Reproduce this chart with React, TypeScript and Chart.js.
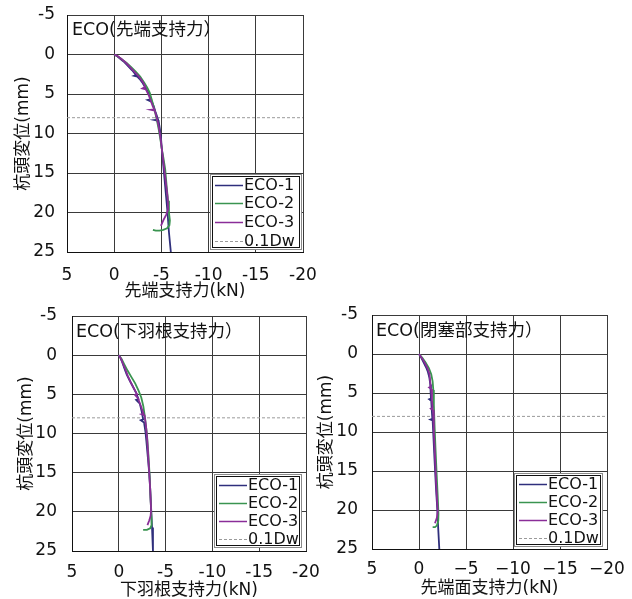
import React, { useEffect, useRef } from 'react';
import { Chart, registerables } from 'chart.js';

Chart.register(...registerables);

// ---------- shared values ----------
const Y_MIN = -5;
const Y_MAX = 25;
const Y_STEP = 5;
const X_MIN = -20;
const X_MAX = 5;
const X_STEP = 5;
const SERIES_LABELS = ['ECO-1', 'ECO-2', 'ECO-3'];
const REF_LABEL = '0.1Dw';
const REF_DISP = 8;
const Y_TITLE = '杭頭変位(mm)';

// ---------- chart 1: 先端支持力 ----------
const tipTitle = 'ECO(先端支持力）';
const tipXTitle = '先端支持力(kN)';
const tipEco1X = [0, -0.3, -0.7, -1.1, -1.5, -1.9, -2.3, -2.1, -2.45, -2.7, -2.95, -3.2, -3.45, -3.7, -3.9, -3.55, -4.0, -4.2, -4.35, -4.5, -4.65, -4.3, -4.7, -4.85, -4.95, -5.05, -5.2, -5.35, -5.5, -5.65, -5.8, -6.0];
const tipEco1Y = [0, 0.2, 0.6, 1.0, 1.5, 2.0, 2.6, 2.7, 2.8, 3.1, 3.5, 4.0, 4.5, 5.0, 5.65, 5.75, 6.0, 6.6, 7.2, 7.7, 8.25, 8.3, 8.4, 9.5, 10.5, 12.0, 14.0, 16.0, 18.0, 20.0, 22.5, 25.0];
const tipEco2X = [0, -0.45, -0.9, -1.35, -1.8, -2.3, -2.75, -3.2, -3.5, -3.75, -3.95, -4.15, -4.35, -4.55, -4.72, -4.9, -5.05, -5.2, -5.4, -5.55, -5.7, -5.8, -5.9, -5.85, -5.6, -5.2, -4.8, -4.4, -4.1];
const tipEco2Y = [0, 0.3, 0.7, 1.1, 1.6, 2.2, 2.8, 3.6, 4.2, 4.8, 5.6, 6.5, 7.4, 8.5, 9.5, 10.8, 12.0, 13.0, 14.5, 16.6, 18.5, 20.0, 21.0, 21.6, 22.0, 22.2, 22.3, 22.3, 22.2];
const tipEco3X = [0, -0.35, -0.8, -1.2, -1.6, -2.0, -2.4, -2.75, -3.05, -3.3, -3.0, -3.35, -3.6, -3.8, -3.95, -4.1, -4.25, -3.9, -4.3, -4.5, -4.7, -4.9, -5.05, -5.2, -5.35, -5.5, -5.65, -5.72, -5.5, -5.2, -4.95];
const tipEco3Y = [0, 0.2, 0.6, 1.0, 1.5, 2.0, 2.5, 3.0, 3.5, 4.1, 4.3, 4.4, 5.0, 5.6, 6.1, 6.6, 6.95, 7.0, 7.1, 8.0, 9.0, 10.5, 12.0, 13.5, 15.0, 16.5, 18.0, 19.6, 20.3, 21.0, 21.7];

// ---------- chart 2: 下羽根支持力 ----------
const wingTitle = 'ECO(下羽根支持力）';
const wingXTitle = '下羽根支持力(kN)';
const wingEco1X = [0, -0.2, -0.4, -0.6, -0.85, -1.15, -1.5, -1.85, -2.1, -1.85, -2.25, -2.45, -2.6, -2.35, -2.7, -2.85, -2.95, -3.1, -3.25, -3.35, -3.45, -3.55, -3.65];
const wingEco1Y = [0, 0.4, 1.0, 1.7, 2.5, 3.2, 4.0, 4.8, 5.6, 5.7, 6.2, 7.2, 8.2, 8.3, 8.6, 9.8, 11.0, 13.0, 15.0, 17.0, 19.5, 22.0, 25.0];
const wingEco2X = [0, -0.3, -0.6, -0.95, -1.35, -1.75, -2.1, -2.4, -2.62, -2.8, -3.0, -3.15, -3.3, -3.4, -3.5, -3.5, -3.35, -3.0, -2.6];
const wingEco2Y = [0, 0.5, 1.2, 2.0, 2.8, 3.6, 4.5, 5.4, 6.5, 8.0, 10.0, 12.5, 15.5, 18.5, 21.0, 21.7, 22.1, 22.3, 22.3];
const wingEco3X = [0, -0.25, -0.45, -0.7, -0.95, -1.25, -1.6, -1.95, -1.75, -2.05, -2.3, -2.5, -2.65, -2.45, -2.75, -2.9, -3.05, -3.2, -3.35, -3.45, -3.4, -3.25, -3.06];
const wingEco3Y = [0, 0.5, 1.1, 1.8, 2.6, 3.4, 4.2, 5.0, 5.1, 5.5, 6.3, 7.0, 7.5, 7.55, 7.7, 9.0, 11.0, 14.0, 17.0, 19.8, 20.5, 21.1, 21.7];

// ---------- chart 3: 閉塞部支持力 ----------
const plugTitle = 'ECO(閉塞部支持力）';
const plugXTitle = '先端面支持力(kN)';
const plugEco1X = [0, -0.25, -0.5, -0.75, -0.95, -1.1, -1.2, -1.27, -1.08, -1.3, -1.35, -1.42, -1.22, -1.45, -1.55, -1.65, -1.8, -1.95, -2.05, -2.16];
const plugEco1Y = [0, 0.5, 1.1, 1.7, 2.3, 3.0, 3.9, 5.7, 5.8, 6.0, 7.0, 8.3, 8.4, 8.5, 11.0, 13.5, 17.0, 20.0, 22.5, 25.0];
const plugEco2X = [0, -0.35, -0.7, -1.05, -1.3, -1.45, -1.52, -1.58, -1.65, -1.75, -1.88, -2.0, -2.07, -2.05, -1.9, -1.7, -1.45];
const plugEco2Y = [0, 0.5, 1.1, 1.8, 2.6, 3.5, 4.6, 6.5, 9.0, 12.0, 15.5, 18.5, 20.5, 21.4, 22.0, 22.2, 22.2];
const plugEco3X = [0, -0.3, -0.6, -0.9, -1.1, -1.25, -1.08, -1.3, -1.38, -1.45, -1.27, -1.5, -1.58, -1.7, -1.82, -1.99, -1.9, -1.7];
const plugEco3Y = [0, 0.5, 1.1, 1.8, 2.5, 4.2, 4.3, 4.5, 6.0, 6.9, 7.0, 7.2, 10.0, 13.0, 16.5, 20.2, 21.0, 21.7];

const COLORS = ['#2f2f7c', '#3a9450', '#8a2d98'];
const REF_COLOR = '#9a9a9a';
const FONT = "'DejaVu Sans', 'Noto Sans CJK JP', sans-serif";

const zip = (xs: number[], ys: number[]) => xs.map((x, i) => ({ x, y: ys[i] }));

type PanelCfg = {
  left: number; top: number; width: number; height: number;
  yw: number; xh: number; pt: number; pr: number;
  xTickPad: number; yTickPad: number; xTitlePad: number; yTitlePad: number;
  title: string; xTitle: string; titleDx: number; titleDy: number;
  legW: number; legH: number; legDr: number; legDb: number;
  unicodeMinus: boolean;
  series: { x: number[]; y: number[] }[];
};

const insidePlugin = {
  id: 'insideDecor',
  afterDraw(chart: any, _args: any, opts: any) {
    const { ctx, chartArea } = chart;
    ctx.save();
    // title inside plot
    ctx.font = `17.5px ${FONT}`;
    ctx.fillStyle = '#111';
    ctx.textBaseline = 'middle';
    ctx.textAlign = 'left';
    ctx.fillText(opts.title, chartArea.left + opts.titleDx, chartArea.top + opts.titleDy);
    // legend box
    const bx = chartArea.right - opts.legDr - opts.legW;
    const by = chartArea.bottom - opts.legDb - opts.legH;
    ctx.fillStyle = '#fff';
    ctx.fillRect(bx, by, opts.legW, opts.legH);
    ctx.strokeStyle = '#8a8a8a';
    ctx.lineWidth = 1;
    ctx.strokeRect(bx + 0.5, by + 0.5, opts.legW - 1, opts.legH - 1);
    ctx.strokeStyle = '#111';
    ctx.strokeRect(bx + 2.5, by + 2.5, opts.legW - 5, opts.legH - 5);
    const dsets = chart.data.datasets;
    const rowGap = (opts.legH - 20) / 3;
    dsets.forEach((ds: any, i: number) => {
      const yy = Math.round(by + 10.5 + i * rowGap) + 0.5;
      ctx.beginPath();
      ctx.setLineDash(ds.borderDash || []);
      ctx.strokeStyle = ds.borderColor;
      ctx.lineWidth = ds.borderDash ? 1 : 1.5;
      ctx.moveTo(bx + 5, yy);
      ctx.lineTo(bx + 33, yy);
      ctx.stroke();
      ctx.setLineDash([]);
      ctx.fillStyle = '#111';
      ctx.font = `16px ${FONT}`;
      ctx.fillText(ds.label, bx + 34, yy + 0.5);
    });
    ctx.restore();
  },
};

function Panel({ cfg }: { cfg: PanelCfg }) {
  const ref = useRef<HTMLCanvasElement>(null);
  useEffect(() => {
    if (!ref.current) return;
    const datasets: any[] = cfg.series.map((s, i) => ({
      label: SERIES_LABELS[i],
      data: zip(s.x, s.y),
      borderColor: COLORS[i],
      backgroundColor: COLORS[i],
      borderWidth: 1.8,
      pointRadius: 0,
      showLine: true,
      tension: 0,
      order: 2 - i,
    }));
    datasets.push({
      label: REF_LABEL,
      data: [{ x: X_MAX, y: REF_DISP }, { x: X_MIN, y: REF_DISP }],
      borderColor: REF_COLOR,
      backgroundColor: REF_COLOR,
      borderWidth: 1,
      borderDash: [3, 2],
      pointRadius: 0,
      showLine: true,
      order: 3,
    });
    const tickFont = { family: FONT, size: 17 };
    const titleFont = { family: FONT, size: 17, lineHeight: 1 };
    const chart = new Chart(ref.current, {
      type: 'scatter',
      data: { datasets },
      plugins: [insidePlugin],
      options: {
        animation: false,
        responsive: false,
        devicePixelRatio: 1,
        layout: { padding: { left: 0, top: cfg.pt, right: cfg.pr, bottom: 0 } },
        plugins: {
          legend: { display: false },
          tooltip: { enabled: false },
          insideDecor: {
            title: cfg.title, titleDx: cfg.titleDx, titleDy: cfg.titleDy,
            legW: cfg.legW, legH: cfg.legH, legDr: cfg.legDr, legDb: cfg.legDb,
          },
        } as any,
        scales: {
          x: {
            type: 'linear',
            min: X_MIN,
            max: X_MAX,
            reverse: true,
            grid: { color: '#3a3a3a', lineWidth: 1, drawTicks: false },
            border: { color: '#111', width: 1 },
            ticks: {
              stepSize: X_STEP,
              padding: cfg.xTickPad,
              color: '#111',
              font: tickFont,
              maxRotation: 0,
              callback: (v: any) => {
                const s = String(v);
                return cfg.unicodeMinus ? s.replace('-', '−') : s;
              },
            },
            title: {
              display: true,
              text: cfg.xTitle,
              color: '#111',
              font: titleFont,
              padding: { top: 0, bottom: cfg.xTitlePad },
            },
            afterFit: (s: any) => {
              s.height = cfg.xh;
              s.paddingLeft = 0;
              s.paddingRight = 0;
            },
          },
          y: {
            type: 'linear',
            min: Y_MIN,
            max: Y_MAX,
            reverse: true,
            grid: { color: '#3a3a3a', lineWidth: 1, drawTicks: false },
            border: { color: '#111', width: 1 },
            ticks: {
              stepSize: Y_STEP,
              padding: cfg.yTickPad,
              color: '#111',
              font: tickFont,
              callback: (v: any) => String(v),
            },
            title: {
              display: true,
              text: Y_TITLE,
              color: '#111',
              font: titleFont,
              padding: { top: cfg.yTitlePad, bottom: 0 },
            },
            afterFit: (s: any) => {
              s.width = cfg.yw;
              s.paddingTop = 0;
              s.paddingBottom = 0;
            },
          },
        } as any,
      },
    });
    return () => chart.destroy();
  }, [cfg]);
  return (
    <canvas
      ref={ref}
      width={cfg.width}
      height={cfg.height}
      style={{ position: 'absolute', left: cfg.left, top: cfg.top, width: cfg.width, height: cfg.height }}
    />
  );
}

const PANELS: PanelCfg[] = [
  {
    left: 0, top: 0, width: 320, height: 300,
    yw: 67, xh: 48, pt: 15, pr: 17,
    xTickPad: 13, yTickPad: 12, xTitlePad: 0, yTitlePad: 15,
    title: tipTitle, xTitle: tipXTitle, titleDx: 5, titleDy: 15,
    legW: 92, legH: 76, legDr: 1, legDb: 2,
    unicodeMinus: false,
    series: [
      { x: tipEco1X, y: tipEco1Y },
      { x: tipEco2X, y: tipEco2Y },
      { x: tipEco3X, y: tipEco3Y },
    ],
  },
  {
    left: 0, top: 300, width: 320, height: 299,
    yw: 72, xh: 48, pt: 16, pr: 14,
    xTickPad: 11, yTickPad: 15, xTitlePad: 0, yTitlePad: 18,
    title: wingTitle, xTitle: wingXTitle, titleDx: 4, titleDy: 16,
    legW: 88, legH: 74, legDr: 4, legDb: 3,
    unicodeMinus: false,
    series: [
      { x: wingEco1X, y: wingEco1Y },
      { x: wingEco2X, y: wingEco2Y },
      { x: wingEco3X, y: wingEco3Y },
    ],
  },
  {
    left: 312, top: 300, width: 320, height: 299,
    yw: 60, xh: 50, pt: 15, pr: 25,
    xTickPad: 10, yTickPad: 14, xTitlePad: 2, yTitlePad: 6,
    title: plugTitle, xTitle: plugXTitle, titleDx: 4, titleDy: 16,
    legW: 89, legH: 74, legDr: 4, legDb: 2,
    unicodeMinus: true,
    series: [
      { x: plugEco1X, y: plugEco1Y },
      { x: plugEco2X, y: plugEco2Y },
      { x: plugEco3X, y: plugEco3Y },
    ],
  },
];

export default function App() {
  return (
    <div style={{ position: 'absolute', left: 0, top: 0, width: 632, height: 599, background: '#fff' }}>
      {PANELS.map((p, i) => (
        <Panel key={i} cfg={p} />
      ))}
    </div>
  );
}
